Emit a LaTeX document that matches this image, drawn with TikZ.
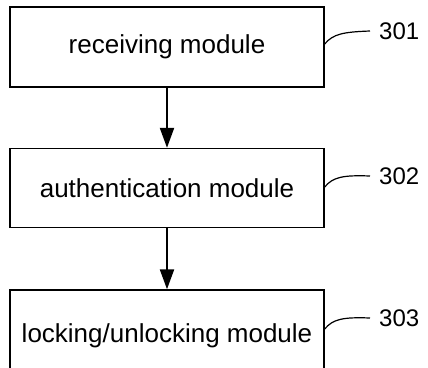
\documentclass[tikz,border=0pt]{standalone}
\usepackage{fontspec}
\setmainfont{Liberation Sans}
\usetikzlibrary{arrows.meta}
\begin{document}
\begin{tikzpicture}[x=1pt,y=-1pt,
  modbox/.style={draw,line width=1.4pt,minimum width=314pt,inner sep=0pt,font=\fontsize{26}{30}\selectfont},
  flow/.style={line width=2.2pt,-{Triangle[length=20pt,width=14pt]}},
  leader/.style={line width=1.2pt},
  reflabel/.style={anchor=west,inner sep=0pt,font=\fontsize{24}{28}\selectfont}]
\useasboundingbox (0,0) rectangle (428,367);
\clip (0,0) rectangle (428,367);
\node[modbox,minimum height=80pt] (m1) at (167,47) {receiving module};
\node[modbox,minimum height=79pt] (m2) at (167,188) {authentication module};
\node[modbox,minimum height=92pt] (m3) at (167,336) {locking/unlocking module};
\draw[flow] (m1.south) -- (m2.north);
\draw[flow] (m2.south) -- (m3.north);
\node[reflabel] (l1) at (379,31) {301};
\node[reflabel] (l2) at (379,176) {302};
\node[reflabel] (l3) at (379,318) {303};
\draw[leader] (m1.east |- 0,44) .. controls (333,34) and (343,32) .. ([xshift=-9pt]l1.west);
\draw[leader] (m2.east |- 0,187) .. controls (333,177) and (343,175) .. ([xshift=-9pt]l2.west);
\draw[leader] (m3.east |- 0,329) .. controls (333,319) and (343,317) .. ([xshift=-9pt]l3.west);
\end{tikzpicture}
\end{document}
